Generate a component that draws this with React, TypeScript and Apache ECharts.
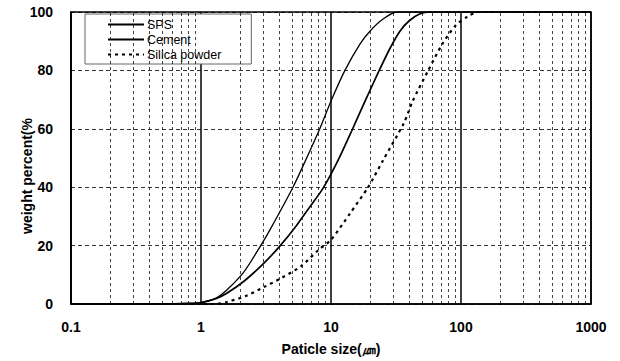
import React, { useEffect, useRef } from "react";
import * as echarts from "echarts";

const spsX = [0.1, 0.5, 0.8, 1, 1.3, 1.58, 2.14, 2.88, 3.45, 5.1, 6.5, 8.2, 10, 12.8, 16.7, 20, 25, 32, 1000];
const spsY = [0, 0, 0.2, 0.5, 2, 4.8, 11, 20, 26, 40, 50, 60, 69.5, 80, 89, 93.5, 97.5, 100, 100];

const cementX = [0.1, 0.5, 0.8, 1, 1.3, 1.58, 2.14, 3.05, 4.07, 5.45, 6.8, 8.5, 10, 12, 14.5, 18.5, 23.5, 28.4, 34, 40, 48, 58, 1000];
const cementY = [0, 0, 0.2, 0.5, 1.8, 3.7, 7.8, 14, 20, 27, 33, 39, 44.5, 51.5, 59.5, 70, 80, 87.5, 93.5, 97, 99.3, 100, 100];

const silicaX = [0.1, 1, 1.3, 1.58, 2.2, 3.05, 4.2, 5.9, 8.1, 10, 14, 19.3, 25, 36.4, 42.5, 55.5, 72.4, 91.6, 112, 135, 1000];
const silicaY = [0, 0, 0, 0.7, 2.7, 5.8, 9, 13, 18.7, 22, 31, 40, 49, 62, 69.5, 79.7, 89.3, 95.6, 98.4, 100, 100];

const seriesNames = ["SPS", "Cement", "Silica powder"];
const xTickLabels: Record<string, string> = { "0.1": "0.1", "1": "1", "10": "10", "100": "100", "1000": "1000" };
const minorGridX = [
  0.2, 0.3, 0.4, 0.5, 0.6, 0.7, 0.8, 0.9,
  2, 3, 4, 5, 6, 7, 8, 9,
  20, 30, 40, 50, 60, 70, 80, 90,
  200, 300, 400, 500, 600, 700, 800, 900,
];

const zip = (xs: number[], ys: number[]) => xs.map((x, i) => [x, ys[i]]);

export default function App() {
  const ref = useRef<HTMLDivElement>(null);
  useEffect(() => {
    if (!ref.current) return;
    const chart = echarts.init(ref.current, null, { renderer: "svg" });
    const font = "Arial, 'Liberation Sans', sans-serif";
    const lineSeries = (name: string, xs: number[], ys: number[], lineStyle: any) => ({
      name,
      type: "line",
      data: zip(xs, ys),
      smooth: 0.25,
      showSymbol: false,
      symbol: "none",
      color: "#000",
      lineStyle: { color: "#000", ...lineStyle },
    });
    chart.setOption({
      animation: false,
      backgroundColor: "#fff",
      grid: { left: 71, right: 29, top: 12, bottom: 55, show: true, borderColor: "#000", borderWidth: 1.5, containLabel: false },
      legend: {
        data: seriesNames,
        orient: "vertical",
        left: 85,
        top: 14,
        padding: [4, 30, 3, 22],
        itemGap: 2,
        itemWidth: 36,
        itemHeight: 12,
        borderColor: "#666",
        borderWidth: 1,
        backgroundColor: "#fff",
        itemStyle: { opacity: 0, borderWidth: 0 },
        textStyle: { fontFamily: font, fontSize: 12.5, color: "#000", padding: [0, 0, 0, -2] },
      },
      xAxis: {
        type: "log",
        logBase: 10,
        min: 0.1,
        max: 1000,
        name: "Paticle size(㎛)",
        nameLocation: "middle",
        nameGap: 38,
        nameTextStyle: { fontFamily: font, fontSize: 14, fontWeight: "bold", color: "#000" },
        axisLine: { show: true, lineStyle: { color: "#000", width: 1.5 } },
        axisTick: { show: false },
        axisLabel: {
          margin: 16,
          fontFamily: font,
          fontSize: 14,
          fontWeight: "bold",
          color: "#000",
          formatter: (v: number) => xTickLabels[String(v)] ?? String(v),
        },
        splitLine: { show: true, lineStyle: { color: "#000", width: 1.5, type: "solid" } },
      },
      yAxis: {
        type: "value",
        min: 0,
        max: 100,
        interval: 20,
        axisLine: { show: true, lineStyle: { color: "#000", width: 1.5 } },
        axisTick: { show: false },
        axisLabel: { margin: 18, fontFamily: font, fontSize: 14, fontWeight: "bold", color: "#000" },
        splitLine: { show: true, lineStyle: { color: "#000", width: 0.8, type: [4, 3] } },
      },
      graphic: [
        {
          type: "text",
          x: 27,
          y: 176,
          rotation: Math.PI / 2,
          style: {
            text: "weight percent(%",
            fontFamily: font,
            fontSize: 14,
            fontWeight: "bold",
            fill: "#000",
            align: "center",
            verticalAlign: "middle",
          },
        },
      ],
      series: [
        {
          name: "grid",
          type: "line",
          data: [],
          silent: true,
          markLine: {
            silent: true,
            symbol: "none",
            label: { show: false },
            lineStyle: { color: "#111", width: 0.8, type: [3, 3] },
            data: minorGridX.map((x) => ({ xAxis: x })),
          },
        },
        lineSeries("SPS", spsX, spsY, { width: 1.3 }),
        lineSeries("Cement", cementX, cementY, { width: 1.7 }),
        lineSeries("Silica powder", silicaX, silicaY, { width: 2.2, type: [3, 4] }),
      ],
    });
    return () => chart.dispose();
  }, []);
  return <div ref={ref} style={{ position: "absolute", left: 0, top: 0, width: 620, height: 361 }} />;
}
